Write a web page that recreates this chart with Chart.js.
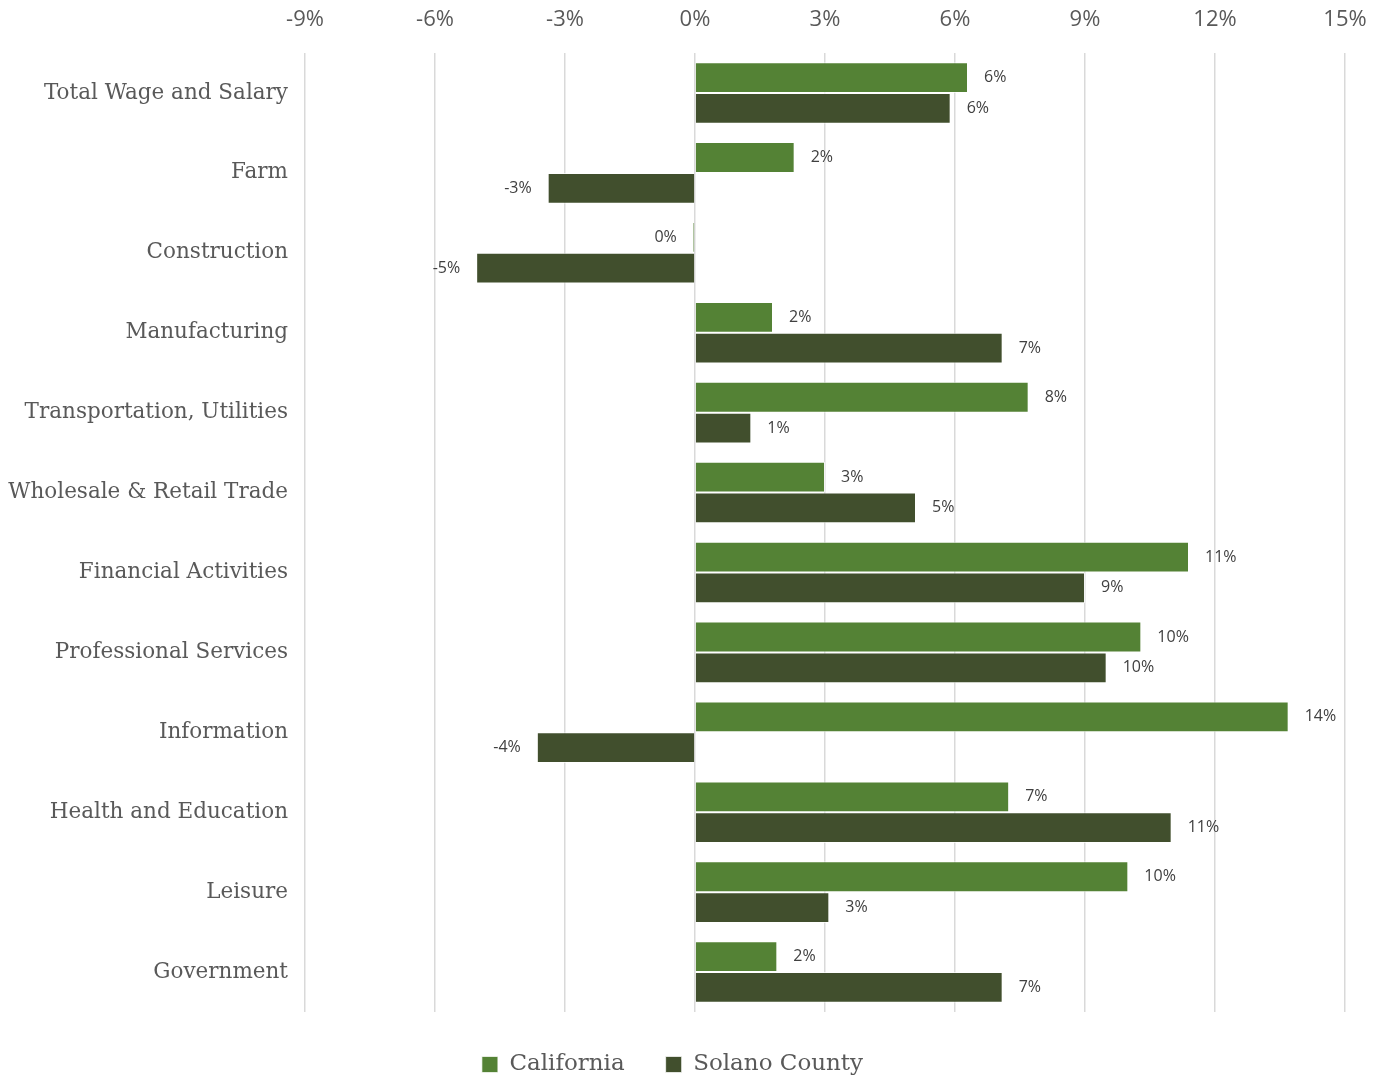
<!DOCTYPE html>
<html>
<head>
<meta charset="utf-8">
<script src="https://cdn.jsdelivr.net/npm/chart.js@4"></script>
<style>
  html, body { margin: 0; padding: 0; background: #fff; }
  #wrap { width: 1379px; height: 1078px; }
</style>
</head>
<body>
<div id="wrap"><canvas id="myChart"></canvas></div>
<script>
/* Categorías */
const categories = [
    'Total Wage and Salary', 'Farm', 'Construction', 'Manufacturing',
    'Transportation, Utilities', 'Wholesale & Retail Trade', 'Financial Activities',
    'Professional Services', 'Information', 'Health and Education', 'Leisure', 'Government'
];
/* Valores (%) */
const california = [6.3, 2.3, -0.05, 1.8, 7.7, 3.0, 11.4, 10.3, 13.7, 7.25, 10.0, 1.9];
const solano = [5.9, -3.4, -5.05, 7.1, 1.3, 5.1, 9.0, 9.5, -3.65, 11.0, 3.1, 7.1];
const xTicks = [-9, -6, -3, 0, 3, 6, 9, 12, 15];

const serif = '"DejaVu Serif", serif';
const sans = '"Open Sans", sans-serif';

/* Etiquetas de datos al final de cada barra */
const barLabels = {
    id: 'barLabels',
    afterDatasetsDraw(chart) {
        const ctx = chart.ctx;
        ctx.save();
        ctx.font = '16px ' + sans;
        ctx.fillStyle = '#404040';
        ctx.textBaseline = 'middle';
        chart.data.datasets.forEach((ds, i) => {
            chart.getDatasetMeta(i).data.forEach((bar, j) => {
                const v = ds.data[j];
                const txt = `${Math.round(v)}%`;
                if (v >= 0) {
                    ctx.textAlign = 'left';
                    ctx.fillText(txt, bar.x + 16, bar.y);
                } else {
                    ctx.textAlign = 'right';
                    ctx.fillText(txt, bar.x - 16, bar.y);
                }
            });
        });
        ctx.restore();
    }
};

const config = {
    type: 'bar',
    data: {
        labels: categories,
        datasets: [{
            label: 'California',
            data: california,
            backgroundColor: '#548235',
            borderColor: 'rgba(255,255,255,0.7)',
            borderWidth: 1,
            categoryPercentage: 0.77,
            barPercentage: 1
        }, {
            label: 'Solano County',
            data: solano,
            backgroundColor: '#414F2D',
            borderColor: 'rgba(255,255,255,0.7)',
            borderWidth: 1,
            categoryPercentage: 0.77,
            barPercentage: 1
        }]
    },
    options: {
        indexAxis: 'y',
        responsive: true,
        maintainAspectRatio: false,
        animation: false,
        layout: { padding: { top: 0, right: 34, bottom: -8, left: 0 } },
        scales: {
            x: {
                position: 'top',
                min: -9,
                max: 15,
                afterBuildTicks: (axis) => { axis.ticks = xTicks.map(v => ({ value: v })); },
                afterFit: (axis) => {
                    axis.height = 53;
                    axis.paddingLeft = 0;
                    axis.paddingRight = 0;
                },
                grid: { color: '#d9d9d9', lineWidth: 1.5, drawTicks: false },
                border: { display: false },
                ticks: {
                    callback: (v) => v + '%',
                    color: '#595959',
                    font: { family: sans, size: 22 },
                    padding: 20
                }
            },
            y: {
                afterFit: (axis) => { axis.width = 305; },
                grid: { display: false },
                border: { display: false },
                ticks: {
                    color: '#595959',
                    font: { family: serif, size: 21.5 },
                    padding: 9
                }
            }
        },
        plugins: {
            legend: {
                position: 'bottom',
                labels: {
                    color: '#595959',
                    font: { family: serif, size: 23 },
                    boxWidth: 16,
                    boxHeight: 16,
                    padding: 41
                }
            },
            tooltip: { enabled: false }
        }
    },
    plugins: [barLabels]
};

const myChart = new Chart(document.getElementById('myChart'), config);
</script>
</body>
</html>
